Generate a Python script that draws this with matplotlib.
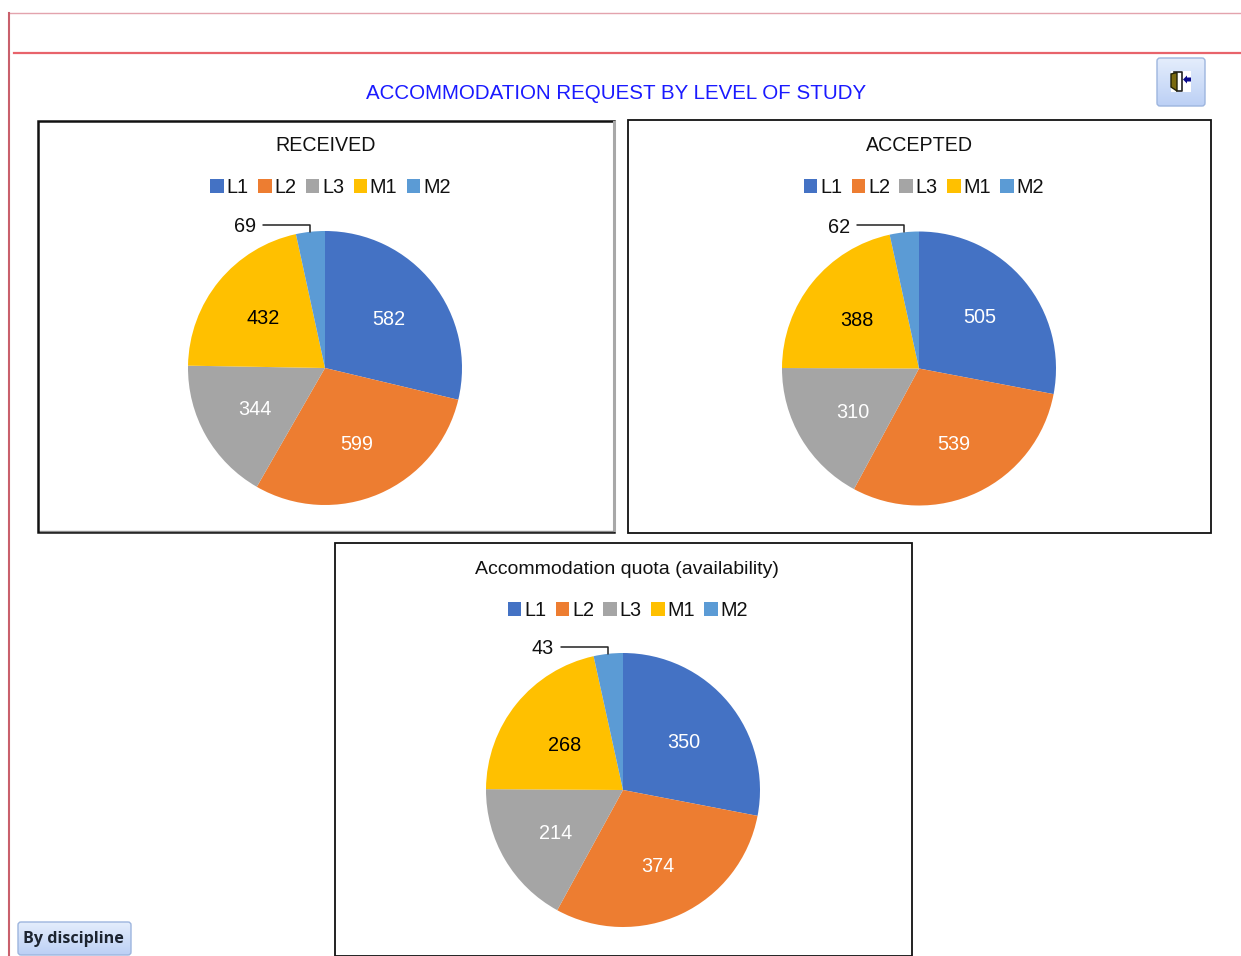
import numpy as np
import matplotlib
matplotlib.use("Agg")
import matplotlib.pyplot as plt
from matplotlib.patches import Rectangle, FancyBboxPatch, Polygon

plt.rcParams['font.family'] = ['Liberation Sans', 'DejaVu Sans']

W = 1241
H = 956

levels = ["L1", "L2", "L3", "M1", "M2"]
received = [582, 599, 344, 432, 69]
accepted = [505, 539, 310, 388, 62]
quota = [350, 374, 214, 268, 43]
colors = ["#4472C4", "#ED7D31", "#A5A5A5", "#FFC000", "#5B9BD5"]
text_colors = ["white", "white", "white", "black"]

fig = plt.figure(figsize=(W / 100, H / 100), dpi=100)
# full figure axes in pixel coordinates, for frames, rules and buttons
bg = fig.add_axes([0, 0, 1, 1])
bg.set_xlim(0, W)
bg.set_ylim(H, 0)
bg.axis("off")

# page rules
bg.plot([10, 1241], [13, 13], color="#e3a3ad", lw=1)
bg.plot([14, 1240], [52.5, 52.5], color="#e8636b", lw=1.6)
bg.plot([9, 9], [13, 956], color="#c9606c", lw=1.5)

bg.text(616.5, 93, "ACCOMMODATION REQUEST BY LEVEL OF STUDY", color="#1a1aff",
        fontsize=14.75, ha="center", va="center")


def button(x0, y0, x1, y1):
    grad = np.linspace(0.0, 1.0, 50).reshape(-1, 1)
    cmap = matplotlib.colors.LinearSegmentedColormap.from_list(
        "btn", ["#e4edfc", "#bcd0f5"])
    im = bg.imshow(grad, extent=[x0, x1, y1, y0], cmap=cmap, aspect="auto", zorder=2)
    box = FancyBboxPatch((x0 + 3, y0 + 3), x1 - x0 - 6, y1 - y0 - 6,
                         boxstyle="round,pad=3", fc="none", ec="#9db5de", lw=1, zorder=3)
    bg.add_patch(box)
    im.set_clip_path(box)


button(1157, 58, 1205, 106)
button(18, 922, 131, 955)
bg.set_xlim(0, W)
bg.set_ylim(H, 0)

# exit door icon
bg.add_patch(Rectangle((1171, 71), 20, 21, fc="white", ec="none", zorder=4))
bg.plot([1174, 1182, 1182, 1177], [72, 72, 91, 91], color="#222222", lw=1.2, zorder=5)
bg.add_patch(Polygon([(1171, 74), (1177, 72.5), (1177, 91), (1171, 87)],
                     fc="#7a6a10", ec="#222208", lw=1, zorder=6))
bg.add_patch(Polygon([(1183, 79.5), (1187, 75.5), (1187, 77.5), (1191, 77.5), (1191, 81.5),
                      (1187, 81.5), (1187, 83.5)], fc="#0a0a8c", ec="none", zorder=5))

bg.text(73.5, 939, "By discipline", fontsize=11.6, fontweight="bold", color="#1c2430",
        family=["Open Sans", "DejaVu Sans"], ha="center", va="center", zorder=5)


def panel(frame, frame_lw, title, title_x, title_y, title_size, legend_y, center, values, nudges):
    x0, y0, x1, y1 = frame
    bg.add_patch(Rectangle((x0, y0), x1 - x0, y1 - y0, fc="none", ec="#111111",
                           lw=frame_lw, zorder=1))
    cx, cy = center
    bg.text(title_x, title_y, title, fontsize=title_size, color="#111111",
            ha="center", va="center")

    r = 137.0
    ax = fig.add_axes([(cx - r) / W, 1 - (cy + r) / H, 2 * r / W, 2 * r / H])
    ax.patch.set_alpha(0)
    wedges, _ = ax.pie(values, colors=colors, startangle=90, counterclock=False,
                       radius=1)
    ax.set_xlim(-1, 1)
    ax.set_ylim(-1, 1)
    ax.set_aspect("equal")

    for w, v, c, (nx, ny) in zip(wedges[:4], values[:4], text_colors, nudges):
        a = np.deg2rad((w.theta1 + w.theta2) / 2)
        ax.text(0.59 * np.cos(a) + nx / r, 0.59 * np.sin(a) - ny / r, str(v), color=c,
                fontsize=14.3, ha="center", va="center")

    # small last slice is labelled outside with a leader line
    a = np.deg2rad((wedges[4].theta1 + wedges[4].theta2) / 2)
    ax.annotate(str(values[4]), xy=(np.cos(a), np.sin(a)), xytext=(-0.584, 1.03),
                fontsize=14.3, color="#111111", ha="center", va="center",
                annotation_clip=False,
                arrowprops=dict(arrowstyle="-", color="#222222", lw=1.1,
                                connectionstyle="angle,angleA=0,angleB=90,rad=0",
                                relpos=(1, 0.6), shrinkA=3, shrinkB=0))

    handles = [Rectangle((0, 0), 1, 1, fc=c, ec="none") for c in colors]
    fig.legend(handles, levels, ncol=5, loc="center",
               bbox_to_anchor=(((x0 + x1) / 2 + 4.5) / W, 1 - (legend_y + 0.5) / H),
               frameon=False, fontsize=14.3, handlelength=0.68, handleheight=0.72,
               handletextpad=0.14, columnspacing=0.47, labelcolor="#111111",
               borderpad=0, borderaxespad=0)


panel((38, 121, 614, 532), 1.8, "RECEIVED", 325.5, 145.5, 14.15, 187, (325, 368), received,
      [(0, 2), (0, 2), (0, 2), (1, 2)])
panel((628, 120, 1211, 533), 1.3, "ACCEPTED", 919.5, 145.5, 14.15, 187, (919, 368.5), accepted,
      [(-2, 1), (0, 3), (3, 3), (1, 3)])
panel((335, 543, 912, 956), 1.3, "Accommodation quota (availability)", 627, 569.5, 14.0, 610,
      (623, 790), quota, [(-2, 4), (0, 3), (2, 2), (4, 6)])

# grey edge over the right and bottom of the first frame
bg.plot([613.5, 613.5], [122, 530], color="#a8a8a8", lw=2.2, zorder=3)
bg.plot([40, 613], [530.5, 530.5], color="#8a8a8a", lw=1, zorder=3)

fig.savefig("out.png", dpi=100)
